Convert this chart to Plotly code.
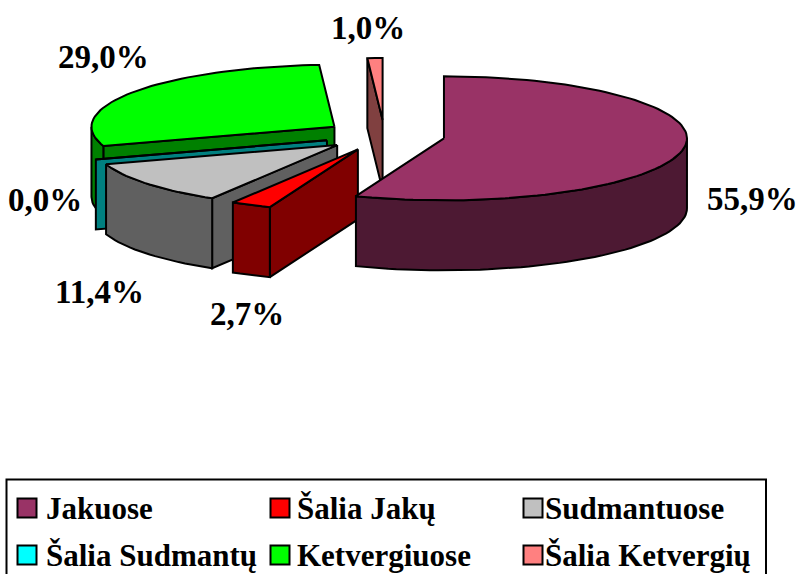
import math
import plotly.graph_objects as go

categories = ["Jakuose", "Šalia Jakų", "Sudmantuose", "Šalia Sudmantų", "Ketvergiuose", "Šalia Ketvergių"]
values = [55.9, 2.7, 11.4, 0.0, 29.0, 1.0]
labels = ["55,9%", "2,7%", "11,4%", "0,0%", "29,0%", "1,0%"]
top_colors = ["#993366", "#FF0000", "#C0C0C0", "#00FFFF", "#00FF00", "#FF8080"]
side_colors = ["#4D1933", "#800000", "#606060", "#008080", "#008000", "#804040"]
face_colors = ["#993366", "#FF0000", "#C0C0C0", "#008080", "#00FF00", "#FF8080"]
label_pos = [(752, 199), (247, 314), (99, 292), (45, 200), (103, 57), (368, 28)]
draw_order = [5, 4, 3, 2, 1, 0]

CX, CY = 384.5, 135.5
A, B = 243.0, 62.0
EXPLODE = 60.5
DEPTH = 70.0
FONT = "Liberation Serif"
FS_LABEL = 33
FS_LEGEND = 31


def pt(c, ang, r=1.0):
    t = math.radians(ang)
    return (c[0] + A * r * math.sin(t), c[1] - B * r * math.cos(t))


def arc(c, a1, a2):
    n = max(2, int(abs(a2 - a1) / 2) + 2)
    return [pt(c, a1 + (a2 - a1) * i / (n - 1)) for i in range(n)]


def down(points):
    return [(x, y + DEPTH) for x, y in points]


def poly(fig, points, color):
    xs = [p[0] for p in points] + [points[0][0]]
    ys = [p[1] for p in points] + [points[0][1]]
    fig.add_trace(go.Scatter(x=xs, y=ys, mode="lines", fill="toself", fillcolor=color,
                             line=dict(color="black", width=2), hoverinfo="skip", showlegend=False))


fig = go.Figure()
angles = []
start = 0.0
for v in values:
    angles.append((start, start + v * 3.6))
    start += v * 3.6

for i in draw_order:
    a1, a2 = angles[i]
    mid = (a1 + a2) / 2
    t = math.radians(mid)
    apex = (CX + EXPLODE * math.sin(t), CY - EXPLODE * (B / A) * math.cos(t))
    # radial cut wall that faces the viewer
    if 180 < a1 < 360:
        edge = [apex, pt(apex, a1)]
        poly(fig, edge + down(edge)[::-1], side_colors[i])
    # rim wall on the front half
    lo, hi = max(a1, 90), min(a2, 270)
    if hi > lo:
        rim = arc(apex, lo, hi)
        poly(fig, rim + down(rim)[::-1], side_colors[i])
    # top
    poly(fig, [apex] + arc(apex, a1, a2), face_colors[i])

for (x, y), text in zip(label_pos, labels):
    fig.add_annotation(x=x, y=y, text=f"<b>{text}</b>", showarrow=False, xanchor="center", yanchor="middle",
                       font=dict(family=FONT, size=FS_LABEL, color="black"))

# legend
LEG_X = [27, 280, 533]
LEG_TX = [46, 297, 545]
LEG_Y = [508, 555]
for i, (name, color) in enumerate(zip(categories, top_colors)):
    col, row = i % 3, i // 3
    fig.add_trace(go.Scatter(x=[LEG_X[col]], y=[LEG_Y[row]], mode="markers", name=name, showlegend=False,
                             hoverinfo="name",
                             marker=dict(symbol="square", size=19, color=color, line=dict(color="black", width=2))))
    fig.add_annotation(x=LEG_TX[col], y=LEG_Y[row], text=f"<b>{name}</b>", showarrow=False,
                       xanchor="left", yanchor="middle", xshift=-2,
                       font=dict(family=FONT, size=FS_LEGEND, color="black"))

fig.add_shape(type="rect", x0=6.5, x1=766, y0=479.5, y1=590, line=dict(color="black", width=2),
              fillcolor="rgba(0,0,0,0)", layer="below")

fig.update_layout(width=798, height=574, margin=dict(l=0, r=0, t=0, b=0), showlegend=False,
                  paper_bgcolor="white", plot_bgcolor="white",
                  xaxis=dict(range=[0, 798], visible=False, fixedrange=True),
                  yaxis=dict(range=[574, 0], visible=False, fixedrange=True))
fig.write_html("out.html", config={"displayModeBar": False},
               post_script="document.body.style.margin='0';document.documentElement.style.overflow='hidden';")
